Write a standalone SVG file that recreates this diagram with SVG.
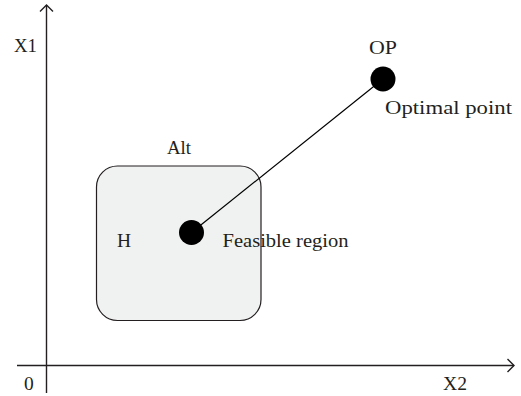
<svg xmlns="http://www.w3.org/2000/svg" width="521" height="396" viewBox="0 0 521 396">
<style>
text{font-family:"Liberation Serif","Times New Roman",serif;font-size:19.5px;fill:#231f20}
.ax{stroke:#231f20;stroke-width:1.4;fill:none}
.dot{fill:#000}
</style>
<rect width="521" height="396" fill="#fff"/>
<g id="axes">
<line class="ax" x1="46.5" y1="5" x2="46.5" y2="393"/>
<polyline class="ax" points="40,11.5 46.5,5 53,11.5"/>
<line class="ax" x1="17" y1="365.5" x2="514" y2="365.5"/>
<polyline class="ax" points="507.5,359 514,365.5 507.5,372"/>
<text x="14" y="52" textLength="23" lengthAdjust="spacingAndGlyphs">X1</text>
<text x="24" y="390">0</text>
<text x="443" y="390" textLength="24" lengthAdjust="spacingAndGlyphs">X2</text>
</g>
<g id="feasible-region">
<rect x="96.5" y="166" width="164.5" height="154.5" rx="21" ry="21" fill="#f0f1f1" stroke="#231f20" stroke-width="1.2"/>
<text x="167" y="154" textLength="24" lengthAdjust="spacingAndGlyphs">Alt</text>
<text x="117" y="247">H</text>
</g>
<g id="connectors">
<line x1="191.5" y1="232.5" x2="383" y2="79" stroke="#000" stroke-width="1.2"/>
</g>
<g id="feasible-point">
<circle class="dot" cx="191.5" cy="232.5" r="12.5"/>
<text x="222.5" y="247" textLength="126" lengthAdjust="spacingAndGlyphs">Feasible region</text>
</g>
<g id="optimal-point">
<circle class="dot" cx="383" cy="79" r="12.5"/>
<text x="369" y="54" textLength="28" lengthAdjust="spacingAndGlyphs">OP</text>
<text x="385" y="114" textLength="127" lengthAdjust="spacingAndGlyphs">Optimal point</text>
</g>
</svg>
